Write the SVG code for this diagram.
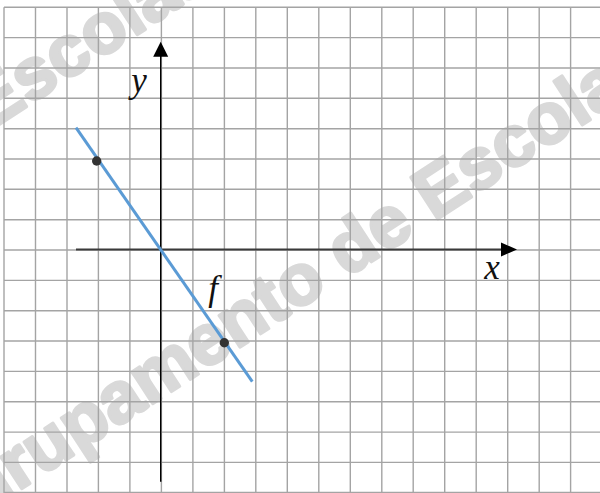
<svg xmlns="http://www.w3.org/2000/svg" width="600" height="493" viewBox="0 0 600 493">
  <style>
    .wm { font-family: "Liberation Sans", Arial, sans-serif; font-weight: bold; font-size: 72px; fill: #d9d9d9; stroke: #d9d9d9; stroke-width: 3; stroke-linejoin: round; }
    .grid line { stroke: #a4a4a4; stroke-width: 1.4; }
    .lbl { font-family: "Liberation Serif", "Times New Roman", serif; font-style: italic; font-size: 35px; fill: #111; text-anchor: middle; }
    .pt { fill: #333333; }
  </style>
  <rect width="600" height="493" fill="#ffffff"/>
  <g id="watermark" transform="translate(442,216) rotate(-33)">
    <text class="wm" x="-602" y="0">Agrupamento de Escolas</text>
    <text class="wm" x="-926" y="-318">Agrupamento de Escolas</text>
  </g>
  <g id="grid" class="grid">
    <line x1="4" y1="7.3" x2="4" y2="493"/>
    <line x1="35.5" y1="7.3" x2="35.5" y2="493"/>
    <line x1="67" y1="7.3" x2="67" y2="493"/>
    <line x1="98.4" y1="7.3" x2="98.4" y2="493"/>
    <line x1="129.9" y1="7.3" x2="129.9" y2="493"/>
    <line x1="161.4" y1="7.3" x2="161.4" y2="493"/>
    <line x1="192.9" y1="7.3" x2="192.9" y2="493"/>
    <line x1="224.4" y1="7.3" x2="224.4" y2="493"/>
    <line x1="255.8" y1="7.3" x2="255.8" y2="493"/>
    <line x1="287.3" y1="7.3" x2="287.3" y2="493"/>
    <line x1="318.8" y1="7.3" x2="318.8" y2="493"/>
    <line x1="350.3" y1="7.3" x2="350.3" y2="493"/>
    <line x1="381.8" y1="7.3" x2="381.8" y2="493"/>
    <line x1="413.2" y1="7.3" x2="413.2" y2="493"/>
    <line x1="444.7" y1="7.3" x2="444.7" y2="493"/>
    <line x1="476.2" y1="7.3" x2="476.2" y2="493"/>
    <line x1="507.7" y1="7.3" x2="507.7" y2="493"/>
    <line x1="539.2" y1="7.3" x2="539.2" y2="493"/>
    <line x1="570.6" y1="7.3" x2="570.6" y2="493"/>
    <line x1="4" y1="7.3" x2="600" y2="7.3"/>
    <line x1="4" y1="37.6" x2="600" y2="37.6"/>
    <line x1="4" y1="68" x2="600" y2="68"/>
    <line x1="4" y1="98.3" x2="600" y2="98.3"/>
    <line x1="4" y1="128.7" x2="600" y2="128.7"/>
    <line x1="4" y1="159" x2="600" y2="159"/>
    <line x1="4" y1="189.3" x2="600" y2="189.3"/>
    <line x1="4" y1="219.7" x2="600" y2="219.7"/>
    <line x1="4" y1="250" x2="600" y2="250"/>
    <line x1="4" y1="280.4" x2="600" y2="280.4"/>
    <line x1="4" y1="310.7" x2="600" y2="310.7"/>
    <line x1="4" y1="341" x2="600" y2="341"/>
    <line x1="4" y1="371.4" x2="600" y2="371.4"/>
    <line x1="4" y1="401.7" x2="600" y2="401.7"/>
    <line x1="4" y1="432.1" x2="600" y2="432.1"/>
    <line x1="4" y1="462.4" x2="600" y2="462.4"/>
    <line x1="4" y1="492.5" x2="600" y2="492.5"/>
  </g>
  <g id="axes">
    <line x1="76" y1="249.5" x2="503" y2="249.5" stroke="#3a3a3a" stroke-width="2"/>
    <polygon points="501,242.5 517,249.5 501,256.5" fill="#000"/>
    <line x1="160.7" y1="481.7" x2="160.7" y2="55" stroke="#000" stroke-width="1.4"/>
    <polygon points="153.2,56.7 160.7,41.7 168.2,56.7" fill="#000"/>
  </g>
  <g id="graph-f">
    <line x1="76" y1="127.7" x2="252.3" y2="381.7" stroke="#5b9bd5" stroke-width="3"/>
  </g>
  <g id="points">
    <circle class="pt" cx="96.7" cy="161" r="4.7"/>
    <circle class="pt" cx="224.3" cy="342.7" r="4.7"/>
  </g>
  <g id="labels">
    <text class="lbl" x="139" y="92">y</text>
    <text class="lbl" x="492" y="279">x</text>
    <text class="lbl" x="213" y="300">f</text>
  </g>
</svg>
